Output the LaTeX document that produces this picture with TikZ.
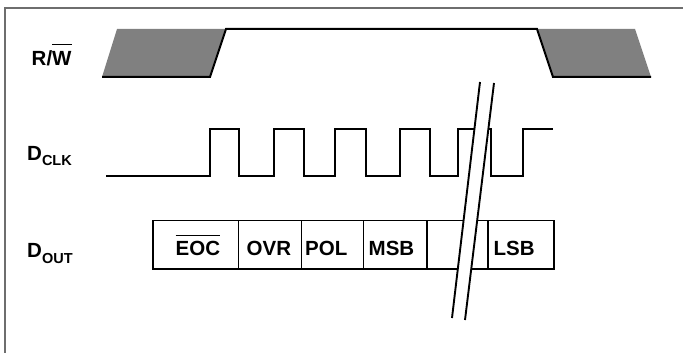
\documentclass[tikz,border=0pt]{standalone}
\usepackage{fontspec}
\setmainfont{Liberation Sans}
\definecolor{framecol}{HTML}{6E6E6E}
\definecolor{shadecol}{HTML}{808080}
\newcommand\myovl[2]{\leavevmode\vbox{\hrule height 1.3pt\kern #1\hbox{#2}}}
\begin{document}
\begin{tikzpicture}[x=1pt,y=-1pt,
  sig/.style={line width=2pt, line join=miter},
  cell/.style={draw, line width=1.6pt, minimum height=48.5pt, inner sep=0pt},
  lbl/.style={font=\fontsize{20.5}{20.5}\selectfont\bfseries, inner sep=0pt, anchor=base west},
  brk/.style={line width=1.9pt}]
\useasboundingbox (0,0) rectangle (683,353);
% frame
\draw[framecol, line width=1.5pt] (5,353) -- (5,8) -- (683,8);
% R/W waveform
\fill[shadecol] (102,77) -- (117,29) -- (226,29) -- (210,77) -- cycle;
\fill[shadecol] (537,29) -- (635,29) -- (651,77) -- (553,77) -- cycle;
\draw[sig] (102,77) -- (210,77) -- (226,29) -- (537,29) -- (553,77) -- (651,77);
% clock
\draw[sig] (106,175.5) -| (210,128.5) -| (239,175.5) -| (273.5,128.5) -| (303.5,175.5)
  -| (335,128.5) -| (366,175.5) -| (400,128.5) -| (430,175.5) -| (458,128.5)
  -| (490.5,175.5) -| (523,128.5) -- (553,128.5);
% data cells
\node[cell, minimum width=85.5pt] (c1) at (195.75,244.75) {};
\node[cell, minimum width=63pt]   (c2) at (270,244.75) {};
\node[cell, minimum width=62pt]   (c3) at (332.5,244.75) {};
\node[cell, minimum width=63.5pt] (c4) at (395.25,244.75) {};
\node[cell, minimum width=61pt]   (c5) at (457.5,244.75) {};
\node[cell, minimum width=66pt]   (c6) at (521,244.75) {};
\node[lbl] (teoc) at (175.5,255.5) {\myovl{5.3pt}{EOC}};
\node[lbl] (tovr) at (246.5,255.5) {OVR};
\node[lbl] (tpol) at (305,255.5) {POL};
\node[lbl] (tmsb) at (368.5,255.5) {MSB};
\node[lbl] (tlsb) at (493.5,255.5) {LSB};
% break mark
\fill[white] (480,82) -- (494,83) -- (465,320) -- (452,318) -- cycle;
\draw[brk] (480,82) -- (452,318);
\draw[brk] (494,83) -- (465,320);
% signal labels
\node[lbl] (rw) at (31.5,66) {R/\myovl{7pt}{W}};
\node[lbl] (dclk) at (27,160) {D\raisebox{-5.7pt}{\fontsize{14.5}{14.5}\selectfont CLK}};
\node[lbl] (dout) at (27,257.5) {D\raisebox{-5.7pt}{\fontsize{14.5}{14.5}\selectfont OUT}};
\end{tikzpicture}
\end{document}
